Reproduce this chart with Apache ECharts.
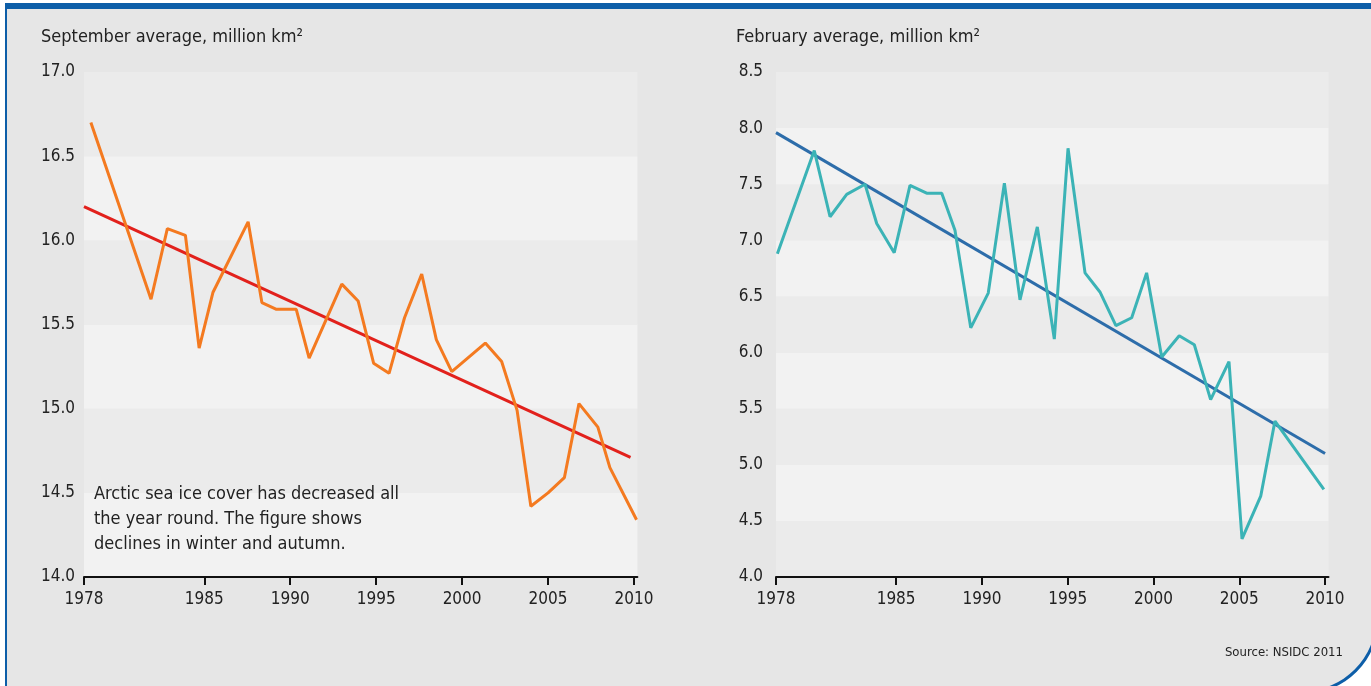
<!DOCTYPE html>
<html>
<head>
<meta charset="utf-8">
<script src="https://cdn.jsdelivr.net/npm/echarts@6/dist/echarts.min.js"></script>
<style>
  html, body { margin: 0; padding: 0; background: #fff; overflow: hidden; }
  #frame {
    position: absolute; left: 5px; top: 3px; width: 1374px; height: 691px;
    box-sizing: border-box; background: #e6e6e6;
    border-left: 2px solid #0d5ea8; border-top: 6px solid #0d5ea8;
    border-right: 3px solid #0d5ea8; border-bottom: 3px solid #0d5ea8;
    border-bottom-right-radius: 76px;
  }
  #chart { position: absolute; left: 0; top: 0; width: 1371px; height: 686px; }
</style>
</head>
<body>
<div id="frame"></div>
<div id="chart"></div>
<script>
var FONT = '"Liberation Sans Narrow", "DejaVu Sans Condensed", sans-serif';

// September average (left panel)
var septYears  = [1978.4, 1981.9, 1982.85, 1983.9, 1984.7, 1985.5, 1987.55, 1988.35, 1989.2, 1990.35,
                  1991.1, 1993.0, 1993.95, 1994.85, 1995.75, 1996.65, 1997.65, 1998.5, 1999.4, 2001.35,
                  2002.3, 2003.2, 2004.0, 2005.0, 2005.95, 2006.8, 2007.9, 2008.6, 2010.15];
var septValues = [16.70, 15.65, 16.07, 16.03, 15.36, 15.69, 16.11, 15.63, 15.59, 15.59,
                  15.30, 15.74, 15.64, 15.27, 15.21, 15.54, 15.80, 15.41, 15.22, 15.39,
                  15.28, 14.99, 14.42, 14.50, 14.59, 15.03, 14.89, 14.65, 14.34];
var septTrendYears  = [1978, 2009.8];
var septTrendValues = [16.20, 14.71];

// February average (right panel)
var febYears  = [1978.08, 1980.23, 1981.15, 1982.12, 1983.19, 1983.87, 1984.89, 1985.81, 1986.78, 1987.66,
                 1988.43, 1989.35, 1990.37, 1991.31, 1992.22, 1993.23, 1994.22, 1995.02, 1996.01, 1996.88,
                 1997.81, 1998.73, 1999.6, 2000.48, 2001.5, 2002.38, 2003.33, 2004.4, 2005.16, 2006.25,
                 2007.08, 2009.93];
var febValues = [6.88, 7.80, 7.21, 7.41, 7.50, 7.15, 6.89, 7.49, 7.42, 7.42,
                 7.09, 6.22, 6.53, 7.51, 6.47, 7.12, 6.12, 7.82, 6.71, 6.54,
                 6.24, 6.31, 6.71, 5.96, 6.15, 6.07, 5.58, 5.92, 4.34, 4.72,
                 5.39, 4.78];
var febTrendYears  = [1978, 2010];
var febTrendValues = [7.96, 5.10];

var yearTicks = [1978, 1985, 1990, 1995, 2000, 2005, 2010];

function pairs(xs, ys) {
  return xs.map(function (x, i) { return [x, ys[i]]; });
}

function xAxisFor(gridIndex) {
  return {
    type: 'value', gridIndex: gridIndex, min: 1978, max: 2010.2,
    axisLine: { show: true, onZero: false, lineStyle: { color: '#111', width: 2 } },
    axisTick: { show: true, customValues: yearTicks, length: 8, lineStyle: { color: '#111', width: 2 } },
    axisLabel: { customValues: yearTicks, margin: 14, fontSize: 17, color: '#222', fontFamily: FONT,
                 formatter: function (v) { return String(v); } },
    splitLine: { show: false }
  };
}

function yAxisFor(gridIndex, min, max, bands, margin) {
  return {
    type: 'value', gridIndex: gridIndex, min: min, max: max, interval: 0.5,
    axisLine: { show: false }, axisTick: { show: false },
    axisLabel: { margin: margin, fontSize: 17, color: '#222', fontFamily: FONT,
                 formatter: function (v) { return v.toFixed(1); } },
    splitLine: { show: false },
    splitArea: { show: true, areaStyle: { color: bands } }
  };
}

var option = {
  backgroundColor: 'transparent',
  animation: false,
  textStyle: { fontFamily: FONT },
  title: [
    { text: 'September average, million km²', left: 41, top: 28, padding: 0,
      textStyle: { fontSize: 18, fontWeight: 'normal', color: '#222', fontFamily: FONT } },
    { text: 'February average, million km²', left: 736, top: 28, padding: 0,
      textStyle: { fontSize: 18, fontWeight: 'normal', color: '#222', fontFamily: FONT } }
  ],
  grid: [
    { left: 84, top: 72, width: 553.4, height: 505 },
    { left: 776, top: 72, width: 552.5, height: 505 }
  ],
  xAxis: [xAxisFor(0), xAxisFor(1)],
  yAxis: [
    yAxisFor(0, 14, 17, ['#f2f2f2', '#ebebeb'], 9),
    yAxisFor(1, 4, 8.5, ['#ebebeb', '#f2f2f2'], 13)
  ],
  series: [
    { type: 'line', xAxisIndex: 0, yAxisIndex: 0, data: pairs(septTrendYears, septTrendValues),
      symbol: 'none', lineStyle: { color: '#e2211c', width: 3 }, clip: false },
    { type: 'line', xAxisIndex: 0, yAxisIndex: 0, data: pairs(septYears, septValues),
      symbol: 'none', lineStyle: { color: '#f47a20', width: 3 }, clip: false },
    { type: 'line', xAxisIndex: 1, yAxisIndex: 1, data: pairs(febTrendYears, febTrendValues),
      symbol: 'none', lineStyle: { color: '#2d6daa', width: 3 }, clip: false },
    { type: 'line', xAxisIndex: 1, yAxisIndex: 1, data: pairs(febYears, febValues),
      symbol: 'none', lineStyle: { color: '#3bb3b6', width: 3 }, clip: false }
  ],
  graphic: [
    { type: 'text', left: 94, top: 482, z: 100,
      style: { text: 'Arctic sea ice cover has decreased all\nthe year round. The figure shows\ndeclines in winter and autumn.',
               fontSize: 18, fontFamily: FONT, fill: '#222', lineHeight: 25 } },
    { type: 'text', right: 28, top: 646, z: 100,
      style: { text: 'Source: NSIDC 2011', fontSize: 13, fontFamily: FONT, fill: '#222' } }
  ]
};

var myChart = echarts.init(document.getElementById('chart'));
myChart.setOption(option);
</script>
</body>
</html>
